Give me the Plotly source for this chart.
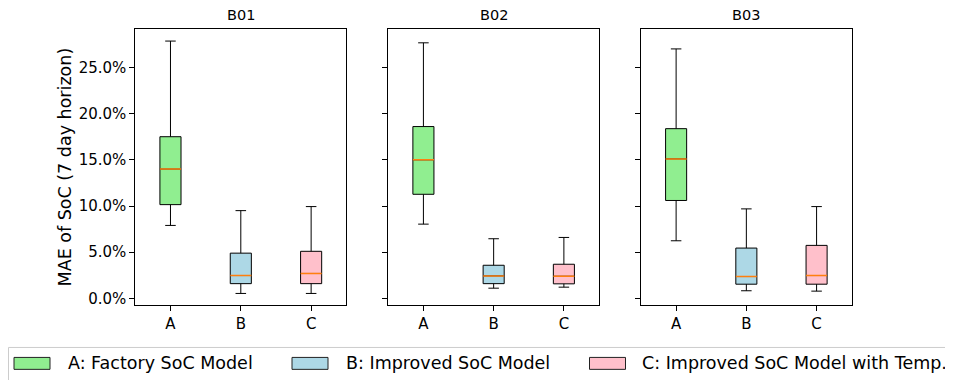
import plotly.graph_objects as go

# ---------------- data (values in percent) ----------------
batteries = ["B01", "B02", "B03"]
categories = ["A", "B", "C"]
model_labels = ["A: Factory SoC Model", "B: Improved SoC Model", "C: Improved SoC Model with Temp."]
box_colors = ["#90EE90", "#ADD8E6", "#FFC0CB"]

whisker_low = [[7.9, 0.54, 0.54], [8.04, 1.11, 1.22], [6.24, 0.83, 0.79]]
q1_vals = [[10.15, 1.6, 1.6], [11.27, 1.6, 1.58], [10.6, 1.54, 1.54]]
median_vals = [[14.0, 2.48, 2.7], [15.0, 2.44, 2.4], [15.1, 2.37, 2.48]]
q3_vals = [[17.5, 4.9, 5.1], [18.6, 3.59, 3.7], [18.37, 5.45, 5.74]]
whisker_high = [[27.85, 9.5, 9.94], [27.66, 6.46, 6.6], [27.0, 9.69, 9.94]]
y_ticks = [0, 5, 10, 15, 20, 25]

# ---------------- layout constants ----------------
# The page body has an 8px default margin, so the figure is shrunk and all
# pixel positions (measured on the 953x380 window) are shifted by it.
OFF = 8
W, H = 953 - OFF, 380 - OFF


def px(x):
    return (x - OFF) / W


def py(y):
    return 1 - (y - OFF) / H


FONT = "DejaVu Sans"
box_w = 0.3
x_domains = [[px(135.3), px(346.3)], [px(388.3), px(599.0)], [px(641.0), px(851.7)]]
y_domain = [py(307.0), py(28.7)]
y_range = [-0.00753, 0.292]

fig = go.Figure()

for bi, bat in enumerate(batteries):
    xa = "x" if bi == 0 else f"x{bi + 1}"
    ya = "y" if bi == 0 else f"y{bi + 1}"
    for ci, cat in enumerate(categories):
        pos = ci + 1
        fig.add_trace(go.Box(
            x=[pos],
            q1=[q1_vals[bi][ci] / 100],
            median=[median_vals[bi][ci] / 100],
            q3=[q3_vals[bi][ci] / 100],
            lowerfence=[whisker_low[bi][ci] / 100],
            upperfence=[whisker_high[bi][ci] / 100],
            width=box_w,
            whiskerwidth=0.5,
            fillcolor=box_colors[ci],
            line=dict(color="black", width=1),
            boxpoints=False,
            showlegend=False,
            hoverinfo="skip",
            xaxis=xa, yaxis=ya,
        ))
        m = median_vals[bi][ci] / 100
        fig.add_trace(go.Scatter(
            x=[pos - box_w / 2, pos + box_w / 2], y=[m, m],
            mode="lines", line=dict(color="#ff7f0e", width=1.5),
            showlegend=False, hoverinfo="skip",
            xaxis=xa, yaxis=ya,
        ))

axis_common = dict(
    showline=True, mirror=True, linecolor="black", linewidth=1,
    ticks="outside", ticklen=5, tickwidth=1, tickcolor="black",
    showgrid=False, zeroline=False,
    tickfont=dict(family=FONT, size=15, color="black"),
)

layout = dict(
    width=W, height=H,
    margin=dict(l=0, r=0, t=0, b=0),
    paper_bgcolor="white", plot_bgcolor="white",
    font=dict(family=FONT, color="black"),
)
for bi in range(3):
    xk = "xaxis" if bi == 0 else f"xaxis{bi + 1}"
    yk = "yaxis" if bi == 0 else f"yaxis{bi + 1}"
    layout[xk] = dict(axis_common, domain=x_domains[bi], range=[0.5, 3.5],
                      tickvals=[1, 2, 3], ticktext=categories,
                      anchor="y" if bi == 0 else f"y{bi + 1}")
    layout[yk] = dict(axis_common, domain=y_domain, range=y_range,
                      tickvals=[t / 100 for t in y_ticks], tickformat=".1%",
                      showticklabels=(bi == 0),
                      anchor="x" if bi == 0 else f"x{bi + 1}")
fig.update_layout(**layout)

annotations = []
for bi, bat in enumerate(batteries):
    annotations.append(dict(
        text=bat, x=sum(x_domains[bi]) / 2, y=py(24.5),
        xref="paper", yref="paper", xanchor="center", yanchor="bottom",
        borderpad=0,
        showarrow=False, font=dict(family=FONT, size=14.5, color="black"),
    ))
annotations.append(dict(
    text="MAE of SoC (7 day horizon)", x=px(65.0), y=py(168.3),
    xref="paper", yref="paper", xanchor="center", yanchor="middle",
    textangle=-90, showarrow=False, font=dict(family=FONT, size=17.5, color="black"),
))

# manual legend (matplotlib-style rectangular patches)
shapes = [dict(type="rect", xref="paper", yref="paper",
               x0=px(8.5), x1=1.02, y0=-0.05, y1=py(349.3),
               line=dict(color="#cccccc", width=1), fillcolor="white", layer="below")]
patch_x = [14, 292, 589.5]
text_x = [66, 344, 640]
for i, lab in enumerate(model_labels):
    shapes.append(dict(type="rect", xref="paper", yref="paper",
                       x0=px(patch_x[i]), x1=px(patch_x[i] + 36),
                       y0=py(371.3), y1=py(359.3),
                       line=dict(color="#222222", width=1), fillcolor=box_colors[i]))
    annotations.append(dict(
        text=lab, x=px(text_x[i]), y=py(365.0),
        xref="paper", yref="paper", xanchor="left", yanchor="middle",
        showarrow=False, font=dict(family=FONT, size=17.5, color="black"),
    ))

fig.update_layout(annotations=annotations, shapes=shapes)
fig.write_html("out.html")
